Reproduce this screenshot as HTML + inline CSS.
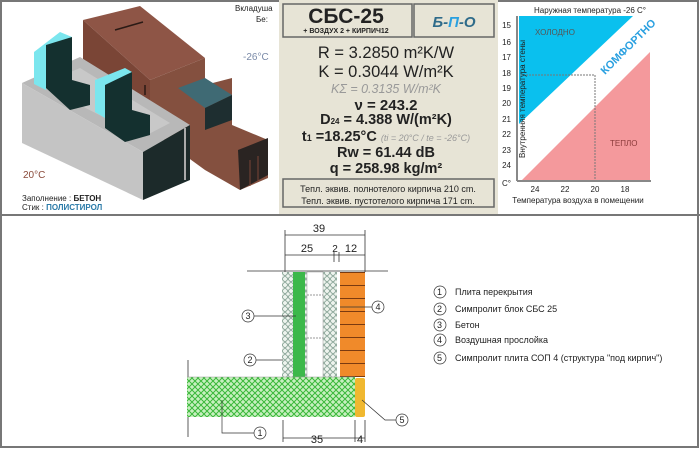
<!DOCTYPE html>
<html><head><meta charset="utf-8"><style>
body{margin:0;background:#fff}
svg{display:block;font-family:"Liberation Sans",sans-serif}
</style></head><body>
<svg width="700" height="449" viewBox="0 0 700 449" xmlns="http://www.w3.org/2000/svg">
<rect x="0" y="0" width="700" height="449" fill="#fff"/>
<rect x="1" y="1" width="697" height="446" fill="none" stroke="#777" stroke-width="2"/>
<line x1="0" y1="215" x2="700" y2="215" stroke="#777" stroke-width="2"/>

<!-- 3D block -->
<g>
<polygon points="83,20 140,6 205,58 150,80" fill="#8e5546"/>
<polygon points="83,20 150,80 150,130 83,75" fill="#7a4536"/>
<polygon points="150,80 205,58 205,85 232,78 232,125 268,140 268,178 240,190 205,170 150,130" fill="#84503f"/>
<line x1="115" y1="30" x2="143" y2="22" stroke="#2a1a15" stroke-width="1.5"/>
<line x1="145" y1="85" x2="145" y2="95" stroke="#2a1a15" stroke-width="1.5"/>
<polygon points="178,88 205,78 232,95 205,108" fill="#3f6a74"/>
<polygon points="205,108 232,95 232,120 205,130" fill="#1e2e30"/>
<polygon points="238,150 268,138 268,175 240,190" fill="#2a2422"/>
<line x1="250" y1="160" x2="250" y2="186" stroke="#7a4536"/>
<line x1="258" y1="156" x2="258" y2="182" stroke="#7a4536"/>
<polygon points="22,83 80,57 190,125 143,152" fill="#b8b8b8"/>
<polygon points="40,85 80,68 170,123 143,137" fill="#c8c8c8"/>
<polygon points="22,83 143,152 143,200 22,143" fill="#c4c4c4"/>
<polygon points="143,152 190,125 190,180 143,200" fill="#1c2a2a"/>
<line x1="185" y1="128" x2="185" y2="180" stroke="#aaa" stroke-width="2"/>
<polygon points="34,52 60,32 72,37 46,60 46,90 34,84" fill="#7be6ee"/>
<polygon points="46,45 72,37 72,80 90,85 90,105 70,110 46,88" fill="#14302f"/>
<polygon points="95,80 125,68 132,72 105,92 105,118 95,112" fill="#7be6ee"/>
<polygon points="105,85 132,72 132,110 150,115 150,135 125,142 105,128" fill="#14302f"/>
<text x="235" y="11" font-size="8" fill="#222">Вкладуша</text>
<text x="256" y="22" font-size="8" fill="#222">Бе:</text>
<text x="243" y="60" font-size="10" fill="#7a8aa8">-26°C</text>
<text x="23" y="178" font-size="10" fill="#8a4a3a">20°C</text>
<text x="22" y="201" font-size="8" fill="#222">Заполнение : <tspan font-weight="bold">БЕТОН</tspan></text>
<text x="22" y="210" font-size="8" fill="#222">Стик : <tspan fill="#2a7aa8" font-weight="bold">ПОЛИСТИРОЛ</tspan></text>
</g>

<!-- middle panel -->
<rect x="279" y="0" width="219" height="214" fill="#e7e4d6"/>
<rect x="283" y="4" width="129" height="33" fill="none" stroke="#666" stroke-width="1.5"/>
<rect x="414" y="4" width="80" height="33" fill="none" stroke="#666" stroke-width="1.5"/>
<text x="346" y="23" font-size="21" font-weight="bold" text-anchor="middle" fill="#222">СБС-25</text>
<text x="346" y="33" font-size="7" font-weight="bold" text-anchor="middle" fill="#222">+ ВОЗДУХ 2 + КИРПИЧ12</text>
<text x="454" y="27" font-size="15" font-weight="bold" font-style="italic" text-anchor="middle" fill="#2f6b8a">Б-<tspan fill="#2aa0e0">П</tspan>-О</text>
<g text-anchor="middle" fill="#222">
<text x="386" y="58" font-size="16.5">R = 3.2850 m²K/W</text>
<text x="386" y="77" font-size="16.5">K = 0.3044 W/m²K</text>
<text x="386" y="93" font-size="12.5" font-style="italic" fill="#999">KΣ = 0.3135 W/m²K</text>
<text x="386" y="110" font-size="15" font-weight="bold">ν =  243.2</text>
<text x="386" y="124" font-size="14.5" font-weight="bold">D<tspan font-size="8">24</tspan> = 4.388 W/(m²K)</text>
<text x="386" y="141" font-size="14.5" font-weight="bold">t<tspan font-size="9">1</tspan> =18.25°C <tspan font-size="9" font-weight="normal" font-style="italic" fill="#999">(ti = 20°C / te = -26°C)</tspan></text>
<text x="386" y="157" font-size="14.5" font-weight="bold">Rw = 61.44 dB</text>
<text x="386" y="173" font-size="14.5" font-weight="bold">q = 258.98 kg/m²</text>
</g>
<rect x="283" y="179" width="211" height="28" fill="none" stroke="#666" stroke-width="1.5"/>
<text x="388" y="192" font-size="9" text-anchor="middle" fill="#222">Тепл. эквив. полнотелого кирпича 210 cm.</text>
<text x="388" y="204" font-size="9" text-anchor="middle" fill="#222">Тепл. эквив. пустотелого кирпича 171 cm.</text>

<!-- chart -->
<rect x="517" y="16" width="134" height="165" fill="#fff"/>
<polygon points="519,16 633,16 519,124" fill="#0ac0ee"/>
<polygon points="522,180 650,52 650,180" fill="#f4999c"/>
<line x1="517" y1="16" x2="517" y2="181" stroke="#888" stroke-width="2"/>
<line x1="517" y1="181" x2="651" y2="181" stroke="#888" stroke-width="2"/>
<polyline points="520,75 595,75 595,180" fill="none" stroke="#777" stroke-dasharray="2,1"/>
<text x="590" y="13" font-size="8" text-anchor="middle" fill="#222">Наружная температура -26 C°</text>
<g font-size="8" fill="#222" text-anchor="end">
<text x="511" y="28">15</text><text x="511" y="45">16</text><text x="511" y="60">17</text><text x="511" y="76">18</text><text x="511" y="91">19</text><text x="511" y="106">20</text><text x="511" y="122">21</text><text x="511" y="137">22</text><text x="511" y="153">23</text><text x="511" y="168">24</text><text x="511" y="186">C°</text>
</g>
<g font-size="8" fill="#222" text-anchor="middle">
<text x="535" y="192">24</text><text x="565" y="192">22</text><text x="595" y="192">20</text><text x="625" y="192">18</text>
<text x="578" y="203">Температура воздуха в помещении</text>
</g>
<text transform="translate(525,158) rotate(-90)" font-size="8" fill="#222">Внутренняя температура стены</text>
<text x="535" y="35" font-size="8" fill="#555">ХОЛОДНО</text>
<text x="610" y="146" font-size="8" fill="#8a3a3a">ТЕПЛО</text>
<text transform="translate(605,75) rotate(-45)" font-size="11" font-weight="bold" fill="#2aa0e0">КОМФОРТНО</text>

<!-- bottom drawing -->
<g stroke="#333" stroke-width="0.8" fill="none">
<line x1="285" y1="235" x2="365" y2="235"/>
<line x1="285" y1="230" x2="285" y2="272"/><line x1="365" y1="230" x2="365" y2="272"/>
<line x1="285" y1="255" x2="365" y2="255"/>
<line x1="334" y1="252" x2="334" y2="262"/><line x1="339" y1="252" x2="339" y2="262"/>
<line x1="247" y1="271" x2="388" y2="271"/>
<line x1="188" y1="360" x2="188" y2="437"/>
<line x1="283" y1="438" x2="365" y2="438"/>
<line x1="283" y1="420" x2="283" y2="442"/><line x1="355" y1="420" x2="355" y2="442"/><line x1="365" y1="420" x2="365" y2="442"/>
</g>
<g font-size="11" fill="#222" text-anchor="middle">
<text x="319" y="232">39</text>
<text x="307" y="252">25</text><text x="335" y="252" font-size="10">2</text><text x="351" y="252">12</text>
<text x="317" y="443">35</text><text x="360" y="443">4</text>
</g>
<defs>
<pattern id="hatch" width="6" height="6" patternUnits="userSpaceOnUse">
<rect width="6" height="6" fill="#c8f0c0"/>
<path d="M0,0 L6,6 M6,0 L0,6" stroke="#3ab83a" stroke-width="1"/>
</pattern>
<pattern id="blob" width="6" height="6" patternUnits="userSpaceOnUse">
<rect width="6" height="6" fill="#eef4ee"/>
<circle cx="3" cy="3" r="2.4" fill="none" stroke="#6f8f80" stroke-width="0.8"/>
</pattern>
<pattern id="brick" width="25" height="13" patternUnits="userSpaceOnUse">
<rect width="25" height="13" fill="#f08a2a"/>
<line x1="0" y1="12.5" x2="25" y2="12.5" stroke="#7a3a10" stroke-width="1"/>
</pattern>
</defs>
<rect x="282" y="272" width="55" height="106" fill="url(#blob)"/>
<rect x="293" y="272" width="12" height="106" fill="#3cb84a"/>
<rect x="307" y="272" width="16" height="106" fill="#fff" stroke="#999" stroke-width="0.5"/>
<line x1="307" y1="295" x2="323" y2="295" stroke="#999" stroke-dasharray="2,1"/>
<line x1="307" y1="338" x2="323" y2="338" stroke="#999" stroke-dasharray="2,1"/>
<rect x="337" y="272" width="3" height="106" fill="#fff"/>
<rect x="340" y="272" width="25" height="105" fill="url(#brick)"/>
<rect x="187" y="377" width="168" height="40" fill="url(#hatch)"/>
<line x1="187" y1="377" x2="355" y2="377" stroke="#999" stroke-width="0.6"/>
<rect x="355" y="378" width="10" height="39" rx="2" fill="#f0b830"/>
<g stroke="#333" stroke-width="0.7" fill="#fff">
<line x1="254" y1="316" x2="296" y2="316"/>
<line x1="256" y1="360" x2="283" y2="360"/>
<line x1="340" y1="307" x2="372" y2="307"/>
<polyline points="222,400 222,433 254,433" fill="none"/>
<polyline points="362,400 385,420 396,420" fill="none"/>
<circle cx="248" cy="316" r="6"/><circle cx="250" cy="360" r="6"/><circle cx="378" cy="307" r="6"/><circle cx="260" cy="433" r="6"/><circle cx="402" cy="420" r="6"/>
</g>
<g font-size="9" fill="#222" text-anchor="middle">
<text x="248" y="319">3</text><text x="250" y="363">2</text><text x="378" y="310">4</text><text x="260" y="436">1</text><text x="402" y="423">5</text>
</g>
<g stroke="#333" stroke-width="0.7" fill="none">
<circle cx="440" cy="292" r="6"/><circle cx="440" cy="309" r="6"/><circle cx="440" cy="325" r="6"/><circle cx="440" cy="340" r="6"/><circle cx="440" cy="358" r="6"/>
</g>
<g font-size="9" fill="#222">
<text x="437" y="295">1</text><text x="437" y="312">2</text><text x="437" y="328">3</text><text x="437" y="343">4</text><text x="437" y="361">5</text>
<text x="455" y="295">Плита перекрытия</text>
<text x="455" y="312">Симпролит блок СБС 25</text>
<text x="455" y="328">Бетон</text>
<text x="455" y="343">Воздушная прослойка</text>
<text x="455" y="361">Симпролит плита СОП 4 (структура "под кирпич")</text>
</g>
</svg>
</body></html>
